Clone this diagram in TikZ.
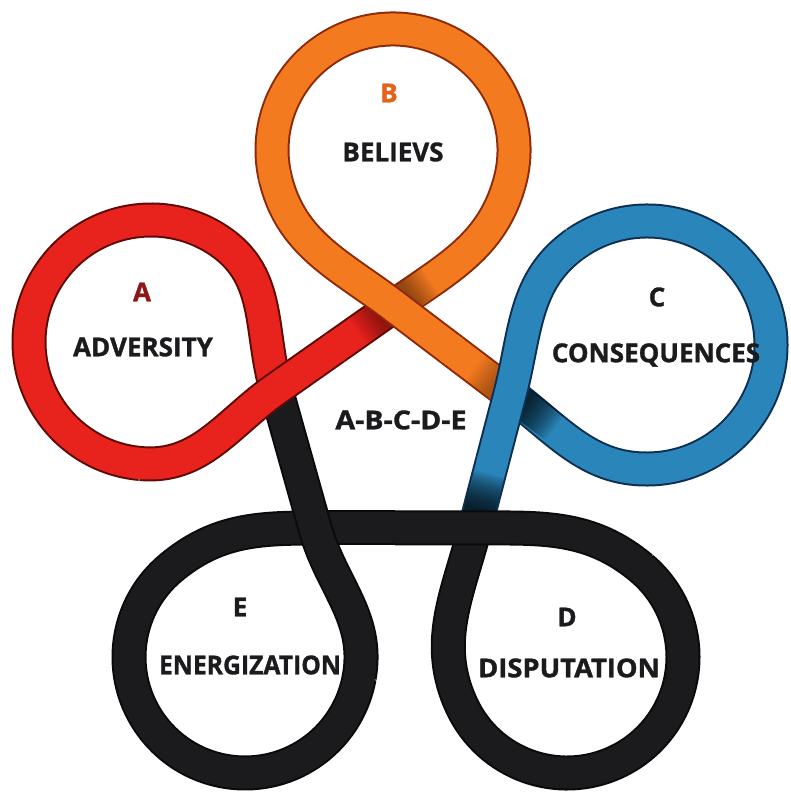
\documentclass[tikz,border=0pt]{standalone}
\usepackage{fontspec}
\setmainfont{Open Sans}[BoldFeatures={FakeBold=1.2}]
\usetikzlibrary{calc}
\definecolor{ribRed}{HTML}{E8221C}
\definecolor{ribRedEdge}{HTML}{5E0B08}
\definecolor{ribOrange}{HTML}{F47A20}
\definecolor{ribOrangeEdge}{HTML}{8C2A0A}
\definecolor{ribBlue}{HTML}{2A86BA}
\definecolor{ribBlueEdge}{HTML}{0E2F52}
\definecolor{ribBlack}{HTML}{1B1B1D}
\definecolor{ribBlackEdge}{HTML}{0A0A0A}
\definecolor{labelRed}{HTML}{8E1616}
\definecolor{labelOrange}{HTML}{E2641C}
\begin{document}
\begin{tikzpicture}[x=1pt, y=1pt,
  band/.style 2 args={draw=#2, double=#1, double distance=31pt, line width=2pt, line join=round},
  core/.style={draw=#1, line width=31pt},
  shadow/.style={draw=black, opacity=#1, line width=31pt},
  word/.style={font=\bfseries\fontsize{26}{30}\selectfont, text=ribBlack, inner sep=0pt},
  letter/.style={font=\bfseries\fontsize{26}{30}\selectfont, inner sep=0pt}]
\useasboundingbox (0,0) rectangle (790,794);
\fill[white] (0,0) rectangle (790,794);

% crossings of the five strands (corners of the inner pentagon)
\coordinate (A) at (276,405);
\coordinate (B) at (394,488);
\coordinate (C) at (510,400);
\coordinate (D) at (475,266);
\coordinate (E) at (315,266);
% loop centres
\coordinate (cA) at (151,452);
\coordinate (cB) at (393,644);
\coordinate (cC) at (647,449);
\coordinate (cD) at (567,137);
\coordinate (cE) at (245,137);
% half-way points of the pentagon sides
\coordinate (mAB) at ($(A)!0.5!(B)$);
\coordinate (mBC) at ($(B)!0.5!(C)$);
\coordinate (mCD) at ($(C)!0.5!(D)$);
\coordinate (mDE) at ($(D)!0.5!(E)$);
\coordinate (mEA) at ($(E)!0.5!(A)$);

% ---- lower layer: strand entering each crossing, and the loop body ----
\draw[band={ribBlack}{ribBlackEdge}] (mEA) -- (A);
\draw[band={ribRed}{ribRedEdge}] (A) to[out=105.7,in=-35] ($(cA)+(55:122)$)
  arc[start angle=55, end angle=265, radius=122];

\draw[band={ribRed}{ribRedEdge}] (mAB) -- (B);
\draw[band={ribOrange}{ribOrangeEdge}] (B) to[out=35.1,in=-105] ($(cB)+(-15:121)$)
  arc[start angle=-15, end angle=193, radius=121];

\draw[band={ribOrange}{ribOrangeEdge}] (mBC) -- (C);
\draw[band={ribBlue}{ribBlueEdge}] (C) to[out=-37.2,in=-177] ($(cC)+(-87:124)$)
  arc[start angle=-87, end angle=125, radius=124];

\draw[band={ribBlue}{ribBlueEdge}] (mCD) -- (D);
\draw[band={ribBlack}{ribBlackEdge}] (D) to[out=255.4,in=115] ($(cD)+(205:116)$)
  arc[start angle=205, end angle=410, radius=116];

\draw[band={ribBlack}{ribBlackEdge}] (mDE) -- (E);
\draw[band={ribBlack}{ribBlackEdge}] (E) to[out=180,in=40] ($(cE)+(130:116)$)
  arc[start angle=130, end angle=350, radius=116];

% ---- shadows cast on the lower strands next to the crossings ----
\foreach \k in {20,22,...,44} {
  \draw[shadow=0.035] (B) -- ++(35.1:\k);
  \draw[shadow=0.03] (B) -- ++(215.1:\k);
  \draw[shadow=0.025] (C) -- ++(142.8:\k);
}
\foreach \k in {20,22,...,56} {
  \draw[shadow=0.06] (C) -- ++(-37.2:\k);
  \draw[shadow=0.065] (D) -- ++(75.4:\k);
}

% ---- upper layer: loop end passing over its crossing ----
\draw[band={ribRed}{ribRedEdge}] ($(cA)+(265:122)$) to[out=355,in=215.1] (A) -- (mAB);
\draw[band={ribOrange}{ribOrangeEdge}] ($(cB)+(193:121)$) to[out=283,in=142.8] (B) -- (mBC);
\draw[band={ribBlue}{ribBlueEdge}] ($(cC)+(125:124)$) to[out=215,in=75.4] (C) -- (mCD);
\draw[band={ribBlack}{ribBlackEdge}] ($(cD)+(50:116)$) to[out=140,in=0] (D) -- (mDE);
\draw[band={ribBlack}{ribBlackEdge}] ($(cE)+(350:116)$) to[out=80,in=285.7] (E) -- (mEA);

% ---- fill over the joints between the pieces ----
\draw[core=ribRed] ($(mAB)!-4pt!(B)$) -- ($(mAB)!4pt!(B)$);
\draw[core=ribOrange] ($(mBC)!-4pt!(C)$) -- ($(mBC)!4pt!(C)$);
\draw[core=ribBlue] ($(mCD)!-4pt!(D)$) -- ($(mCD)!4pt!(D)$);
\draw[core=ribBlack] ($(mDE)!-4pt!(E)$) -- ($(mDE)!4pt!(E)$);
\draw[core=ribBlack] ($(mEA)!-4pt!(A)$) -- ($(mEA)!4pt!(A)$);
\draw[core=ribRed] ($(cA)+(262:122)$) arc[start angle=262, end angle=267, radius=122];
\draw[core=ribOrange] ($(cB)+(190:121)$) arc[start angle=190, end angle=195, radius=121];
\draw[core=ribBlue] ($(cC)+(122:124)$) arc[start angle=122, end angle=127, radius=124];
\draw[core=ribBlack] ($(cD)+(47:116)$) arc[start angle=47, end angle=52, radius=116];
\draw[core=ribBlack] ($(cE)+(347:116)$) arc[start angle=347, end angle=352, radius=116];

% ---- labels ----
\node[letter, text=labelRed] (lA) at (142,502) {A};
\node[word] (wA) at (143,447) {ADVERSITY};
\node[letter, text=labelOrange] (lB) at (389,701) {B};
\node[word] (wB) at (393,642) {BELIEVS};
\node[letter, text=ribBlack] (lC) at (657,497) {C};
\node[word] (wC) at (656,439) {CONSEQUENCES};
\node[letter, text=ribBlack] (lD) at (567,177) {D};
\node[word] (wD) at (569,126) {\scalebox{1.05}[1]{DISPUTATION}};
\node[letter, text=ribBlack] (lE) at (240,187) {E};
\node[word] (wE) at (250,129) {\scalebox{0.95}[1]{ENERGIZATION}};
\node[word] (mid) at (401,374) {\scalebox{1.1}[1]{A-B-C-D-E}};
\end{tikzpicture}
\end{document}
